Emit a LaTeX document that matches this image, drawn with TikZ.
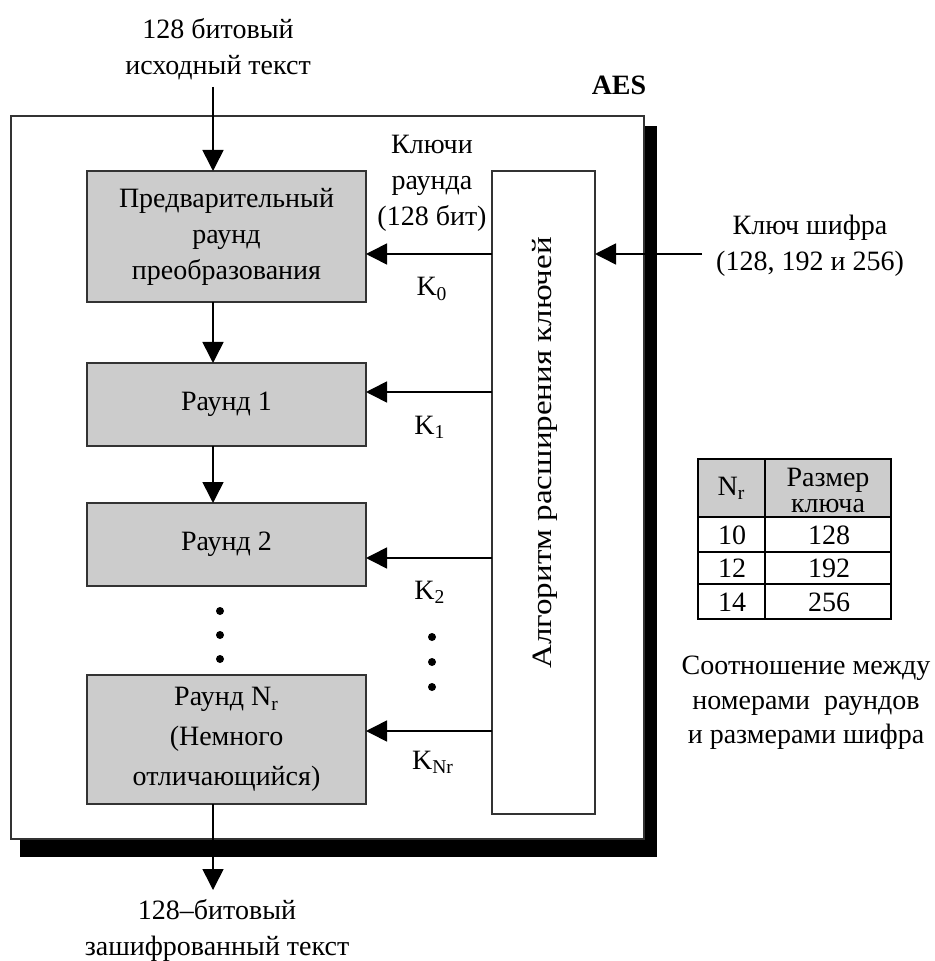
\documentclass[tikz,border=0pt]{standalone}
\usepackage{fontspec}
\setmainfont{Liberation Serif}
\usetikzlibrary{arrows.meta}
\begin{document}
\begin{tikzpicture}[x=0.5pt,y=-0.5pt,
  every node/.style={inner sep=0pt, outer sep=0pt, align=center,
    font=\fontsize{14}{18}\selectfont},
  frame/.style={draw=black!80, line width=1pt, fill=white},
  stage/.style={draw=black!80, line width=1pt, fill=black!20, minimum width=139.5pt},
  flow/.style={draw=black, line width=0.8pt, -{Triangle[length=10.5pt,width=10.5pt]}},
  dotmark/.style={circle, fill=black, minimum size=4pt},
  tabline/.style={draw=black, line width=0.8pt}
]
\useasboundingbox (0,0) rectangle (934,961);

% AES block with its drop shadow
\fill[black] (20,126) rectangle (657,857);
\node[frame, minimum width=316.75pt, minimum height=361.5pt] (aes) at (327.25,477.5) {};
\node[font=\fontsize{14}{18}\selectfont\bfseries] (aeslabel) at (619,85) {AES};

% round stages
\node[stage, minimum height=65.5pt] (b1) at (226.5,236.5) {Предварительный\\раунд\\преобразования};
\node[stage, minimum height=41.5pt] (b2) at (226.5,404.5) {Раунд 1};
\node[stage, minimum height=41.5pt] (b3) at (226.5,544.5) {Раунд 2};
\node[stage, minimum height=64.5pt, font=\fontsize{14}{20}\selectfont] (b4) at (226.5,739.5)
  {Раунд N\textsubscript{r}\\(Немного\\отличающийся)};

\node[dotmark] (d1) at (220,611) {};
\node[dotmark] (d2) at (220,635) {};
\node[dotmark] (d3) at (220,659) {};

% key expansion
\node[frame, minimum width=51.5pt, minimum height=321.5pt] (kexp) at (543.5,492.5) {};
\node[rotate=90] (kexplabel) at (545,453) {\scalebox{1.18}[1]{Алгоритм расширения ключей}};

% main data path
\coordinate (col) at (213,0);
\coordinate (src) at (213,87);
\coordinate (dst) at (213,890);
\draw[flow] (src) -- (b1.north -| col);
\draw[flow] (b1.south -| col) -- (b2.north -| col);
\draw[flow] (b2.south -| col) -- (b3.north -| col);
\draw[flow] (b4.south -| col) -- (dst);

\node (srclabel) at (218,49) {128 битовый\\исходный текст};
\node (dstlabel) at (217,930) {128–битовый\\зашифрованный текст};

% round keys
\coordinate (k0) at (0,254);
\coordinate (k1) at (0,392);
\coordinate (k2) at (0,558);
\coordinate (kn) at (0,731);
\draw[flow] (kexp.west |- k0) -- (b1.east |- k0);
\draw[flow] (kexp.west |- k1) -- (b2.east |- k1);
\draw[flow] (kexp.west |- k2) -- (b3.east |- k2);
\draw[flow] (kexp.west |- kn) -- (b4.east |- kn);

\node (rklabel) at (432,183) {Ключи\\раунда\\(128 бит)};
\node (k0l) at (432,289) {K\textsubscript{0}};
\node (k1l) at (430,427) {K\textsubscript{1}};
\node (k2l) at (430,592) {K\textsubscript{2}};
\node (knl) at (433,762) {K\textsubscript{Nr}};
\node[dotmark] (e1) at (432,637) {};
\node[dotmark] (e2) at (432,662) {};
\node[dotmark] (e3) at (432,687) {};

% cipher key input
\coordinate (cin) at (702,254);
\draw[flow] (cin) -- (kexp.east |- k0);
\node (cinlabel) at (810,246) {Ключ шифра\\(128, 192 и 256)};

% rounds versus key size
\fill[black!20] (698,459) rectangle (891,517);
\draw[tabline] (698,459) rectangle (891,619);
\draw[tabline] (765,459) -- (765,619);
\draw[tabline] (698,517) -- (891,517);
\draw[tabline] (698,552) -- (891,552);
\draw[tabline] (698,584) -- (891,584);
\node (th1) at (731.5,488) {N\textsubscript{r}};
\node[font=\fontsize{14}{13}\selectfont] (th2) at (828,490) {Размер\\ключа};
\node (r1a) at (732,535) {10};
\node (r1b) at (829,535) {128};
\node (r2a) at (732,568) {12};
\node (r2b) at (829,568) {192};
\node (r3a) at (732,602) {14};
\node (r3b) at (829,602) {256};
\node[font=\fontsize{14}{17.25}\selectfont] (caption) at (806,703)
  {Соотношение между\\номерами\ \ раундов\\и размерами шифра};
\end{tikzpicture}
\end{document}
